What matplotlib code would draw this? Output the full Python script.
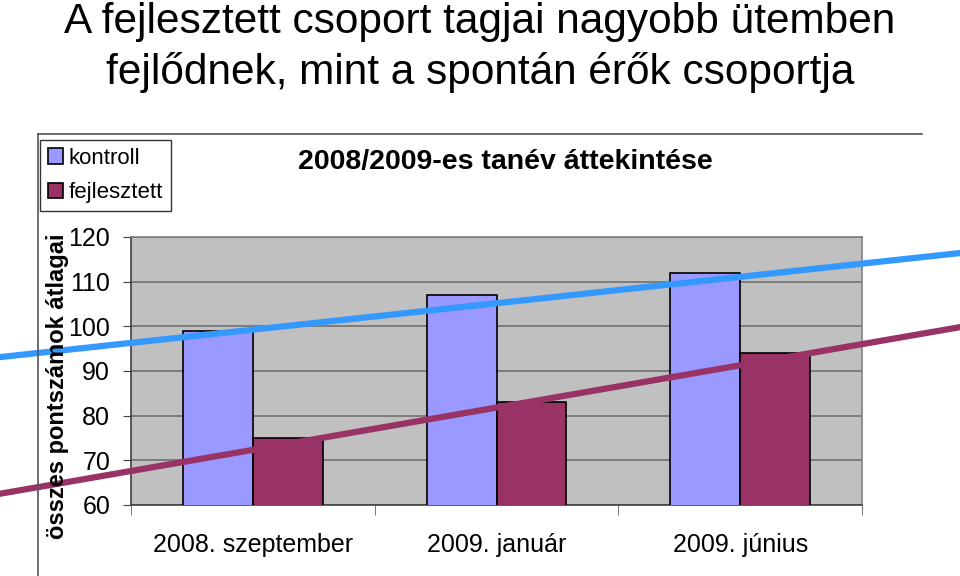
import numpy as np
import matplotlib.pyplot as plt
from matplotlib.lines import Line2D

plt.rcParams['font.family'] = ['Liberation Sans', 'DejaVu Sans']

categories = ["2008. szeptember", "2009. január", "2009. június"]
kontroll = [99, 107, 112]
fejlesztett = [75, 83, 94]

# trend lines, in data units (x = category index)
trend_x = [-1.04, 2.90]
kontroll_trend = [93.1, 116.4]
fejlesztett_trend = [62.5, 99.8]

fig = plt.figure(figsize=(9.6, 5.76), dpi=100)
ax = fig.add_axes([131 / 960, 1 - 505 / 576, 731 / 960, 268 / 576])
ax.set_facecolor('#c0c0c0')

x = np.arange(len(categories))
w = 0.287
ax.bar(x - w / 2, kontroll, w, color='#9999ff', edgecolor='black', linewidth=1.2,
       label='kontroll', zorder=3)
ax.bar(x + w / 2, fejlesztett, w, color='#993366', edgecolor='black', linewidth=1.2,
       label='fejlesztett', zorder=3)

ax.set_ylim(60, 120)
ax.set_xlim(-0.5, 2.5)
ax.set_yticks(range(60, 121, 10))
ax.tick_params(axis='y', labelsize=18, length=6, pad=9, color='#404040')
ax.yaxis.grid(True, color='#707070', linewidth=1.2, zorder=1)
ax.set_axisbelow(True)

ax.set_xticks(x)
ax.set_xticklabels(categories, fontsize=18)
ax.tick_params(axis='x', which='major', length=0, pad=20)
ax.set_xticks(np.arange(-0.5, 3, 1), minor=True)
ax.tick_params(axis='x', which='minor', length=7, color='#606060')

for s in ax.spines.values():
    s.set_color('#808080')
    s.set_linewidth(1.2)
ax.spines['left'].set_color('#404040')
ax.spines['bottom'].set_color('#404040')

ax.plot(trend_x, kontroll_trend, color='#3399ff', linewidth=4.5, clip_on=False, zorder=5)
ax.plot(trend_x, fejlesztett_trend, color='#993366', linewidth=4.5, clip_on=False, zorder=5)

# outer chart frame (top and left edge)
fig.add_artist(Line2D([38 / 960, 922 / 960], [1 - 134 / 576, 1 - 134 / 576],
                      color='#555555', linewidth=1.2))
fig.add_artist(Line2D([38 / 960, 38 / 960], [1 - 134 / 576, 0],
                      color='#555555', linewidth=1.2))

fig.legend(loc='upper left', bbox_to_anchor=(40 / 960, 1 - 140 / 576), borderaxespad=0,
           fontsize=16, frameon=True, fancybox=False, edgecolor='black',
           handlelength=0.7, handleheight=0.7, handletextpad=0.25, labelspacing=0.6,
           borderpad=0.35).get_frame().set_linewidth(1.0)

fig.text(0.5, 1 - 33 / 576, "A fejlesztett csoport tagjai nagyobb ütemben",
         ha='center', va='baseline', fontsize=30.5)
fig.text(0.5, 1 - 84 / 576, "fejlődnek, mint a spontán érők csoportja",
         ha='center', va='baseline', fontsize=30.5)
fig.text(505 / 960, 1 - 162 / 576, "2008/2009-es tanév áttekintése",
         ha='center', va='center', fontsize=20.5, fontweight='bold')
fig.text(58 / 960, 1 - 386 / 576, "összes pontszámok átlagai",
         ha='center', va='center', rotation=90, fontsize=17, fontweight='bold')

fig.savefig('out.png', dpi=100)
